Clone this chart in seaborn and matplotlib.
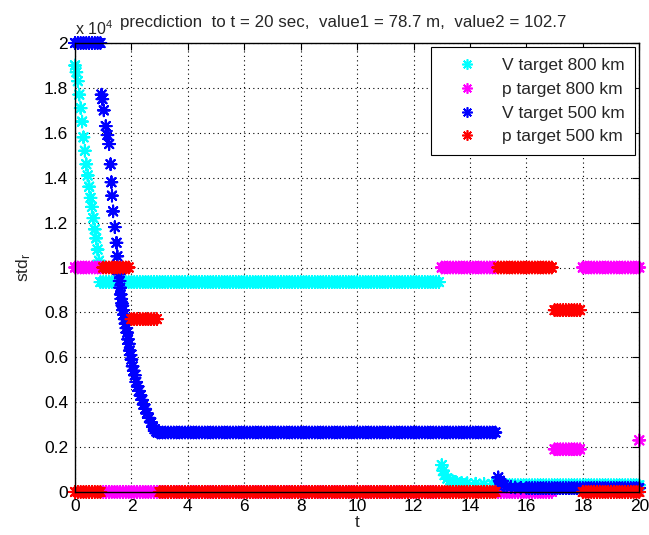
import numpy as np
import pandas as pd
import matplotlib
matplotlib.use("Agg")
import matplotlib.pyplot as plt
from matplotlib.lines import Line2D
import seaborn as sns

# ---- data (std in units of 1e4) ----
names = ['V target 800 km', 'p target 800 km', 'V target 500 km', 'p target 500 km']
colors = ['#00FFFF', '#FF00FF', '#0000FF', '#FF0000']

# V target 800 km
v800_t1 = [0.0, 0.05, 0.1, 0.15, 0.2, 0.25, 0.3, 0.35, 0.4, 0.45, 0.5, 0.55,
           0.6, 0.65, 0.7, 0.75, 0.8, 0.85]
v800_y1 = [1.90, 1.87, 1.83, 1.77, 1.71, 1.65, 1.58, 1.52, 1.46, 1.41, 1.36, 1.31,
           1.27, 1.22, 1.17, 1.13, 1.08, 1.03]
v800_t2 = [13.0, 13.05, 13.1, 13.2, 13.3, 13.4, 13.5, 13.7, 13.9, 14.2, 14.5, 14.8]
v800_y2 = [0.12, 0.095, 0.075, 0.06, 0.052, 0.047, 0.044, 0.041, 0.039, 0.037, 0.036, 0.035]
v800_runs = [(0.9, 12.9, 0.935), (15.0, 20.0, 0.03)]

# p target 800 km
p800_runs = [(0.0, 0.9, 1.0), (1.0, 12.9, 0.0), (13.0, 14.9, 1.0),
             (15.0, 16.9, 0.0), (17.0, 17.9, 0.19), (18.0, 20.0, 1.0)]
p800_t_extra = [20.0]
p800_y_extra = [0.23]

# V target 500 km
v500_t1 = [0.94, 0.97, 1.02, 1.09, 1.15, 1.21, 1.26, 1.29, 1.31, 1.35, 1.41, 1.47, 1.50,
           1.56, 1.58, 1.60, 1.62, 1.64, 1.66, 1.68, 1.70, 1.73, 1.76, 1.79, 1.82,
           1.85, 1.88, 1.91, 1.94, 1.97, 2.00, 2.04, 2.08, 2.12, 2.17, 2.22, 2.27,
           2.32, 2.38, 2.43, 2.49, 2.55, 2.62, 2.70, 2.76, 2.82, 2.88, 2.93]
v500_y1 = [1.77, 1.75, 1.70, 1.63, 1.59, 1.55, 1.46, 1.38, 1.32, 1.25, 1.18, 1.11, 1.05,
           0.97, 0.94, 0.91, 0.88, 0.86, 0.84, 0.83, 0.81, 0.79, 0.77, 0.75, 0.73,
           0.71, 0.68, 0.66, 0.63, 0.61, 0.59, 0.56, 0.54, 0.52, 0.49, 0.47, 0.45,
           0.43, 0.41, 0.39, 0.37, 0.35, 0.33, 0.31, 0.29, 0.28, 0.27, 0.265]
v500_t2 = [15.0, 15.05, 15.1, 15.2, 15.3, 15.45, 15.6, 15.8, 16.0]
v500_y2 = [0.065, 0.05, 0.04, 0.03, 0.025, 0.022, 0.02, 0.019, 0.018]
v500_runs = [(0.0, 0.9, 2.0), (3.0, 14.9, 0.265), (16.1, 20.0, 0.017)]

# p target 500 km
p500_runs = [(0.0, 0.9, 0.0), (1.0, 1.9, 1.0), (2.0, 2.9, 0.77), (3.0, 14.9, 0.0),
             (15.0, 16.9, 1.0), (17.0, 17.9, 0.81), (18.0, 20.0, 0.0)]

xticks = list(range(0, 21, 2))
yticks = [0, 0.2, 0.4, 0.6, 0.8, 1, 1.2, 1.4, 1.6, 1.8, 2]
title = 'precdiction  to t = 20 sec,  value1 = 78.7 m,  value2 = 102.7'


def expand(runs, dt=0.1):
    ts, ys = [], []
    for t0, t1, lev in runs:
        tt = np.arange(t0, t1 + 1e-9, dt)
        ts.extend(tt)
        ys.extend([lev] * len(tt))
    return ts, ys


def series(name, t_lists, y_lists, runs):
    ts, ys = [], []
    for a, b in zip(t_lists, y_lists):
        ts.extend(a)
        ys.extend(b)
    rt, ry = expand(runs)
    ts.extend(rt)
    ys.extend(ry)
    return pd.DataFrame({'t': ts, 'std': ys, 'series': name})


df = pd.concat([
    series(names[0], [v800_t1, v800_t2], [v800_y1, v800_y2], v800_runs),
    series(names[1], [p800_t_extra], [p800_y_extra], p800_runs),
    series(names[2], [v500_t1, v500_t2], [v500_y1, v500_y2], v500_runs),
    series(names[3], [], [], p500_runs),
], ignore_index=True)

sns.set_theme(style='white')
plt.rcParams['font.family'] = ['Liberation Sans', 'DejaVu Sans']
plt.rcParams['mathtext.fontset'] = 'custom'
plt.rcParams['mathtext.rm'] = 'Liberation Sans'
plt.rcParams['mathtext.it'] = 'Liberation Sans:italic'

fig, ax = plt.subplots(figsize=(6.49, 5.35), dpi=100)
fig.subplots_adjust(left=0.1156, right=0.985, bottom=0.0804, top=0.9196)

star = (8, 2, 0)
sns.scatterplot(data=df, x='t', y='std', hue='series', hue_order=names,
                palette=colors, marker=star, s=70, linewidth=1.5,
                legend=False, clip_on=False, ax=ax, zorder=3)

ax.set_xlim(0, 20)
ax.set_ylim(0, 2)
ax.set_xticks(xticks)
ax.set_yticks(yticks)
ax.set_xticklabels([str(v) for v in xticks])
ax.set_yticklabels(['%g' % v for v in yticks])
ax.grid(True, color='black', linestyle=(0, (1, 3)), linewidth=0.8)
ax.set_axisbelow(True)
for sp in ax.spines.values():
    sp.set_color('black')
    sp.set_linewidth(1.0)
    sp.set_zorder(4)
ax.tick_params(direction='in', length=5, width=0.8, top=True, right=True,
               labelsize=12.5, colors='black', pad=5)

ax.set_xlabel('t', fontsize=12.5, labelpad=1)
ax.set_ylabel('std$_\\mathrm{r}$', fontsize=12.5, labelpad=8)
ax.text(0.0, 1.018, 'x 10$^{4}$', transform=ax.transAxes, ha='left',
        va='baseline', fontsize=11.5)
fig.text(343 / 649, 1 - 23 / 535, title, ha='center', va='center', fontsize=12.2)

handles = [Line2D([], [], linestyle='', marker=star, markersize=7.5,
                  markeredgewidth=1.2, color=c) for c in colors]
leg = ax.legend(handles, names, loc='upper right', fontsize=12.5, frameon=True,
                fancybox=False, edgecolor='black', framealpha=1,
                borderaxespad=0.25, borderpad=0.6, handlelength=3.0,
                handletextpad=0.5, labelspacing=0.5)
leg.get_frame().set_linewidth(0.8)

plt.savefig('out.png', dpi=100)
